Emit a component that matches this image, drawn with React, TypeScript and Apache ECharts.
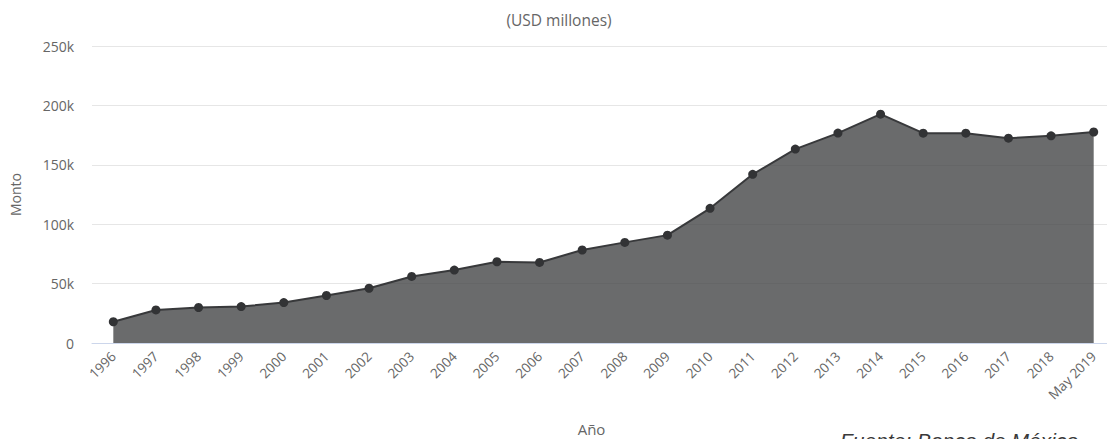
import React, { useEffect, useRef } from "react";
import * as echarts from "echarts";

const categories = [
  "1996", "1997", "1998", "1999", "2000", "2001", "2002", "2003", "2004", "2005",
  "2006", "2007", "2008", "2009", "2010", "2011", "2012", "2013", "2014", "2015",
  "2016", "2017", "2018", "May 2019",
];
const montos = [
  17900, 27800, 29900, 30700, 34000, 40000, 46100, 56000, 61400, 68400,
  67800, 78300, 84700, 90800, 113400, 142000, 163200, 176700, 192600, 176600,
  176600, 172400, 174400, 177600,
];
const yTicks = [0, 50000, 100000, 150000, 200000, 250000];

const subtitleText = "(USD millones)";
const xName = "Año";
const yName = "Monto";
const sourceText = "Fuente: Banco de México";

export default function App() {
  const ref = useRef<HTMLDivElement>(null);
  useEffect(() => {
    if (!ref.current) return;
    const chart = echarts.init(ref.current, null, { renderer: "svg" });
    const font = "'Open Sans', 'Noto Sans', sans-serif";
    chart.setOption({
      animation: false,
      textStyle: { fontFamily: font },
      title: {
        text: subtitleText,
        left: 554,
        top: 7,
        textAlign: "center",
        textStyle: { fontSize: 15.5, fontWeight: "normal", color: "#666666", fontFamily: font },
      },
      grid: {
        left: 92,
        right: 10,
        top: 46,
        bottom: 96,
        containLabel: false,
        outerBoundsMode: "none",
      },
      xAxis: {
        type: "category",
        data: categories,
        boundaryGap: true,
        name: xName,
        nameLocation: "middle",
        nameGap: 78,
        nameTextStyle: {
          fontSize: 15,
          color: "#666666",
          fontFamily: font,
          padding: [0, 24, 0, 0],
        },
        axisLine: { show: true, lineStyle: { color: "#ccd6eb", width: 1 } },
        axisTick: { show: false },
        axisLabel: {
          interval: 0,
          rotate: 45,
          margin: 11,
          fontSize: 13.5,
          color: "#666666",
          fontFamily: font,
        },
        splitLine: { show: false },
      },
      yAxis: {
        type: "value",
        min: yTicks[0],
        max: yTicks[yTicks.length - 1],
        interval: yTicks[1] - yTicks[0],
        name: yName,
        nameLocation: "middle",
        nameGap: 70,
        nameRotate: 90,
        nameTextStyle: { fontSize: 14, color: "#666666", fontFamily: font },
        axisLine: { show: false },
        axisTick: { show: false },
        axisLabel: {
          margin: 18,
          fontSize: 14,
          color: "#666666",
          fontFamily: font,
          formatter: (v: number) => (v === 0 ? "0" : v / 1000 + "k"),
        },
        splitLine: { show: true, lineStyle: { color: "#e6e6e6", width: 1 } },
      },
      graphic: [
        {
          type: "text",
          left: 840,
          top: 430,
          style: {
            text: sourceText,
            fontSize: 21,
            fontStyle: "italic",
            fill: "#3a3a3a",
            fontFamily: "'Liberation Sans', Arial, sans-serif",
          },
        },
      ],
      series: [
        {
          type: "line",
          data: montos,
          symbol: "circle",
          symbolSize: 9,
          showSymbol: true,
          lineStyle: { color: "#38393b", width: 2 },
          itemStyle: { color: "#323335" },
          areaStyle: { color: "#404143", opacity: 0.78 },
          z: 2,
        },
      ],
    });
    return () => chart.dispose();
  }, []);
  return (
    <div
      style={{
        position: "absolute",
        left: 0,
        top: 0,
        width: 1107,
        height: 439,
        overflow: "hidden",
        background: "#ffffff",
      }}
    >
      <div ref={ref} style={{ width: 1125, height: 439 }} />
    </div>
  );
}
